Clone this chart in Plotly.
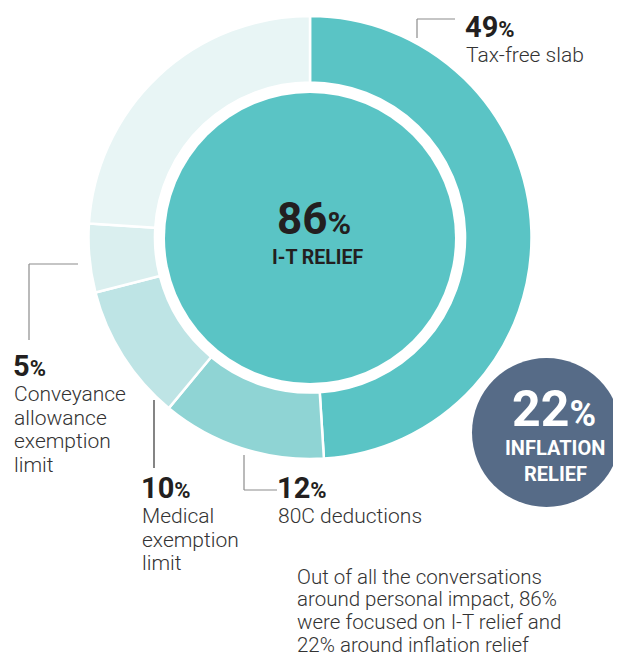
import plotly.graph_objects as go

# page body has an 8px margin: figure fills the rest of the 621x658 window
OFF = 8
W, H = 621 - OFF, 658 - OFF

# ---- data ----
ring_labels = ["Tax-free slab", "80C deductions", "Medical exemption limit",
               "Conveyance allowance exemption limit", "Other"]
ring_values = [49, 12, 10, 5, 24]
ring_colors = ["#5AC4C5", "#8FD4D4", "#BEE4E5", "#DAEFEF", "#E8F5F5"]
it_relief = 86
inflation_relief = 22

label_pcts = ["49%", "12%", "10%", "5%"]
label_texts = [["Tax-free slab"], ["80C deductions"], ["Medical", "exemption", "limit"],
               ["Conveyance", "allowance", "exemption", "limit"]]
note_lines = ["Out of all the conversations", "around personal impact, 86%",
              "were focused on I-T relief and", "22% around inflation relief"]

# ---- helpers (window pixel -> paper) ----
def px(x):
    return (x - OFF) / W

def py(y):
    return 1 - (y - OFF) / H

def dom(cx, cy, r):
    return dict(x=[max(0, px(cx - r)), min(1, px(cx + r))],
                y=[max(0, py(cy + r)), min(1, py(cy - r))])

FONT = "Roboto"
DARK = "#231F20"
GREY = "#333333"

fig = go.Figure()

# outer ring
fig.add_trace(go.Pie(
    values=ring_values, labels=ring_labels, hole=0.70, sort=False,
    direction="clockwise", rotation=0, textinfo="none", hoverinfo="skip",
    marker=dict(colors=ring_colors, line=dict(color="white", width=2.5)),
    domain=dom(310, 237.5, 221.5), showlegend=False))

# inner circle (I-T relief)
fig.add_trace(go.Pie(
    values=[it_relief], labels=["I-T relief"], sort=False, textinfo="none",
    hoverinfo="skip", marker=dict(colors=["#5AC4C5"], line=dict(width=0)),
    domain=dom(310, 238, 145), showlegend=False))

# inflation circle
fig.add_trace(go.Pie(
    values=[inflation_relief], labels=["Inflation relief"], sort=False,
    textinfo="none", hoverinfo="skip",
    marker=dict(colors=["#566B87"], line=dict(width=0)),
    domain=dict(x=[px(472), 1], y=[py(508), py(357)]), showlegend=False))

ann = []

def text(x, y, s, size, color, weight=300, xanchor="left"):
    ann.append(dict(x=px(x), y=py(y), xref="paper", yref="paper", text=s,
                    showarrow=False, xanchor=xanchor, yanchor="middle",
                    borderpad=0,
                    font=dict(family=FONT, size=size, color=color, weight=weight)))

def pct(v, small):
    return f"{v[:-1]}<span style='font-size:{small}px'>%</span>"

# centre labels
text(314, 219, pct(f"{it_relief}%", 32), 44, DARK, 700, "center")
text(317, 258, "I-T RELIEF", 19.5, DARK, 700, "center")
text(554, 409, pct(f"{inflation_relief}%", 36), 50, "white", 700, "center")
text(555, 448, "INFLATION", 20, "white", 700, "center")
text(555, 474, "RELIEF", 20, "white", 700, "center")

# segment labels: (x, y of pct line)
lab_pos = [(464, 27), (276, 488), (140, 488), (12, 366)]
for (x, y), p, lines in zip(lab_pos, label_pcts, label_texts):
    text(x, y, pct(p, 22), 29, DARK, 700)
    for i, ln in enumerate(lines):
        text(x + 1, y + 28 + 23.5 * i, ln, 21, GREY, 300)

# note
for i, ln in enumerate(note_lines):
    text(296, 576.5 + 22.8 * i, ln, 20.5, GREY, 300)

# leader lines
shapes = []

def seg(x0, y0, x1, y1, color="#8C8C8C"):
    shapes.append(dict(type="line", xref="paper", yref="paper",
                       x0=px(x0), y0=py(y0), x1=px(x1), y1=py(y1),
                       line=dict(color=color, width=1.2)))

seg(417, 38, 417, 19); seg(417, 19, 455, 19)
seg(29, 340, 29, 264); seg(29, 264, 78, 264)
seg(154, 400, 154, 468, "#333333")
seg(244, 455, 244, 490); seg(244, 490, 277, 490)

fig.update_layout(width=W, height=H, margin=dict(l=0, r=0, t=0, b=0),
                  paper_bgcolor="white", plot_bgcolor="white",
                  annotations=ann, shapes=shapes, showlegend=False)

fig.write_html("out.html")
